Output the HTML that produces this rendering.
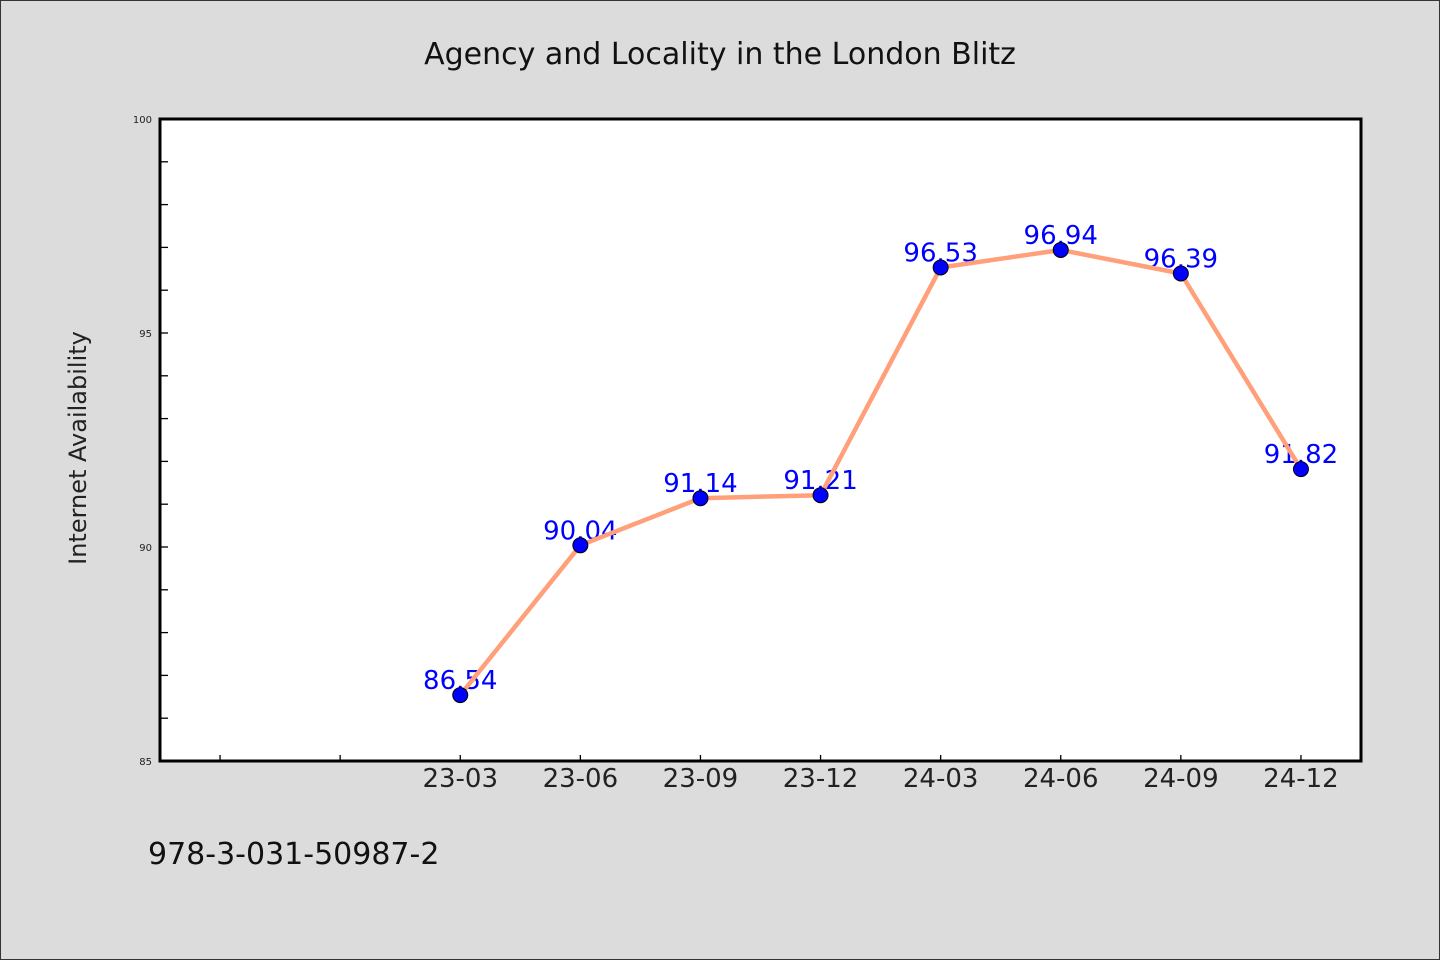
<!DOCTYPE html>
<html><head><meta charset="utf-8"><style>
body{margin:0;background:#dcdcdc;}
svg{display:block;}
text{font-family:"WenQuanYi Zen Hei","DejaVu Sans",sans-serif;}
</style></head><body>
<svg width="1440" height="960">
<rect x="0.5" y="0.5" width="1439" height="959" fill="#dcdcdc" stroke="#333"/>
<text x="720" y="64" font-size="30" text-anchor="middle" fill="#111">Agency and Locality in the London Blitz</text>
<rect x="160" y="119" width="1201" height="642" fill="#fff"/>
<g id="axes"></g>
<g id="labels"></g>
<g id="line"></g>
<g id="marks"></g>
<rect x="160" y="119" width="1201" height="642" fill="none" stroke="#000" stroke-width="3"/>
<text transform="translate(86,448) rotate(-90)" font-size="24" text-anchor="middle" fill="#222">Internet Availability</text>
<text x="148" y="864" font-size="30" fill="#111">978-3-031-50987-2</text>
</svg>
<script>
const categories=["","","23-03","23-06","23-09","23-12","24-03","24-06","24-09","24-12"];
const values=[null,null,86.54,90.04,91.14,91.21,96.53,96.94,96.39,91.82];
const valueLabels=["","","86.54","90.04","91.14","91.21","96.53","96.94","96.39","91.82"];
const yTicks=[85,90,95,100];
const ns="http://www.w3.org/2000/svg";
const L=160,R=1361,T=119,B=761,yMin=85,yMax=100;
const xs=i=>L+(i+0.5)*(R-L)/categories.length;
const ys=v=>B-(v-yMin)/(yMax-yMin)*(B-T);
function mk(tag,attrs,parent,txt){const e=document.createElementNS(ns,tag);for(const k in attrs)e.setAttribute(k,attrs[k]);if(txt!==undefined)e.textContent=txt;document.getElementById(parent).appendChild(e);return e;}
for(let v=yMin;v<=yMax;v++){
  const t=mk('line',{x1:L,x2:L+8,y1:ys(v),y2:ys(v),stroke:'#000','stroke-width':1.3},'axes');
  
  
}
yTicks.forEach(v=>{
  const t=mk('text',{x:L-8,y:ys(v)+4,'font-size':10,'text-anchor':'end',fill:'#222'},'axes',v);
  
  
});
categories.forEach((c,i)=>{
  const t=mk('line',{x1:xs(i),x2:xs(i),y1:B,y2:B-6,stroke:'#000','stroke-width':1.3},'axes');
  
  
  if(c){
    const l=mk('text',{x:xs(i),y:B+26,'font-size':26,'text-anchor':'middle',fill:'#222'},'axes',c);
    
    
  }
});
const pts=[];
values.forEach((v,i)=>{if(v!==null)pts.push([xs(i),ys(v),i]);});
const pl=mk('polyline',{points:pts.map(p=>p[0]+','+p[1]).join(' '),fill:'none',stroke:'#ffa07a','stroke-width':4.5,'stroke-linejoin':'round'},'line');


pts.forEach(p=>{
  const t=mk('text',{x:p[0],y:p[1]-6,'font-size':26,'text-anchor':'middle',fill:'#0000ff'},'labels',valueLabels[p[2]]);
  
  
  const c=mk('circle',{cx:p[0],cy:p[1],r:7.5,fill:'#0000ff',stroke:'#000','stroke-width':1},'marks');
  
  
});
</script>
</body></html>
